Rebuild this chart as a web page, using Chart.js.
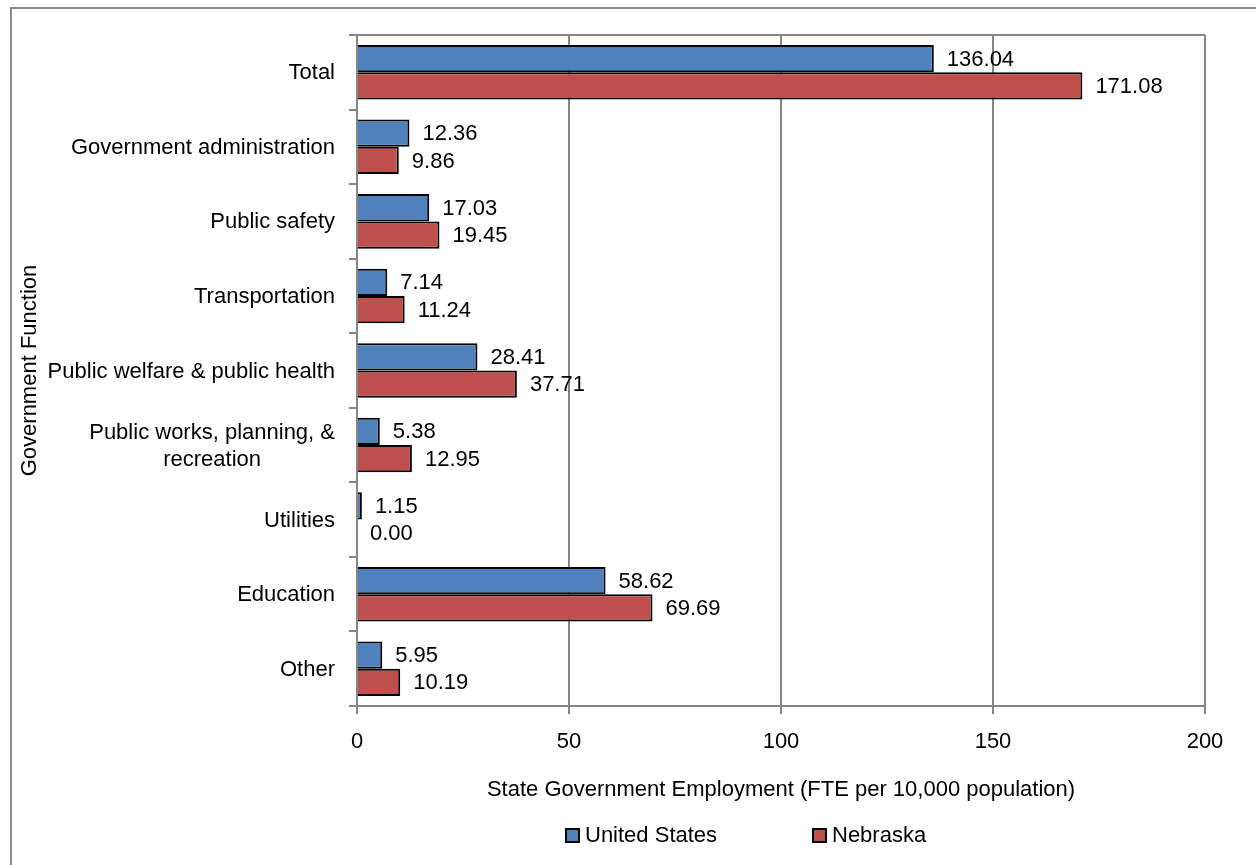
<!DOCTYPE html>
<html>
<head>
<meta charset="utf-8">
<script src="https://cdn.jsdelivr.net/npm/chart.js@4.4.0/dist/chart.umd.min.js"></script>
<style>
  html, body { margin: 0; padding: 0; background: #fff; overflow: hidden; }
  #wrap { position: relative; width: 1256px; height: 865px; }
  #frame { position: absolute; left: 10px; top: 7px; width: 1400px; height: 1000px; border: 2px solid #898989; box-sizing: border-box; }
  #chartBox { position: absolute; left: 0; top: 0; width: 1256px; height: 865px; }
  .legend { position: absolute; top: 822px; font-family: 'Liberation Sans', Arial, sans-serif; font-size: 22px; color: #000; display: flex; align-items: center; }
  .legend span.box { display: inline-block; width: 11px; height: 11px; border: 2px solid #000; margin-right: 5px; }
</style>
</head>
<body>
<div id="wrap">
  <div id="frame"></div>
  <div id="chartBox"><canvas id="govChart" width="1256" height="865"></canvas></div>
  <div class="legend" style="left:565px"><span class="box" style="background:#4F81BD"></span>United States</div>
  <div class="legend" style="left:812px"><span class="box" style="background:#C0504D"></span>Nebraska</div>
</div>
<script>
const categories = [
    'Total',
    'Government administration',
    'Public safety',
    'Transportation',
    'Public welfare & public health',
    ['Public works, planning, &', 'recreation'],
    'Utilities',
    'Education',
    'Other'
];
const usValues = [136.04, 12.36, 17.03, 7.14, 28.41, 5.38, 1.15, 58.62, 5.95];
const nebraskaValues = [171.08, 9.86, 19.45, 11.24, 37.71, 12.95, 0.00, 69.69, 10.19];
const xTicks = [0, 50, 100, 150, 200];

const gridColor = '#868686';
const fontFamily = "'Liberation Sans', Arial, sans-serif";
const fontSize = 22;
Chart.defaults.font.family = fontFamily;
Chart.defaults.font.size = fontSize;
Chart.defaults.color = '#000';

// value labels to the right of each bar
const valueLabels = {
    id: 'valueLabels',
    afterDatasetsDraw(chart) {
        const ctx = chart.ctx;
        ctx.save();
        ctx.font = fontSize + 'px ' + fontFamily;
        ctx.fillStyle = '#000';
        ctx.textAlign = 'left';
        ctx.textBaseline = 'middle';
        chart.data.datasets.forEach((ds, i) => {
            chart.getDatasetMeta(i).data.forEach((bar, j) => {
                ctx.fillText(ds.data[j].toFixed(2), bar.x + 13, bar.y + 1);
            });
        });
        ctx.restore();
    }
};

// category labels, multi-line ones centred on their widest line
const categoryLabels = {
    id: 'categoryLabels',
    afterDraw(chart) {
        const ctx = chart.ctx;
        const yScale = chart.scales.y;
        const right = chart.chartArea.left - 22;
        ctx.save();
        ctx.font = fontSize + 'px ' + fontFamily;
        ctx.fillStyle = '#000';
        ctx.textBaseline = 'middle';
        categories.forEach((label, i) => {
            const y = yScale.getPixelForTick(i) + 1;
            if (Array.isArray(label)) {
                const w = Math.max(...label.map(l => ctx.measureText(l).width));
                const cx = right - w / 2;
                ctx.textAlign = 'center';
                label.forEach((line, k) => {
                    ctx.fillText(line, cx, y + (k - (label.length - 1) / 2) * 27);
                });
            } else {
                ctx.textAlign = 'right';
                ctx.fillText(label, right, y);
            }
        });
        // top edge of the plot area
        const a = chart.chartArea;
        ctx.strokeStyle = gridColor;
        ctx.lineWidth = 2;
        ctx.beginPath();
        ctx.moveTo(a.left, a.top);
        ctx.lineTo(a.right, a.top);
        ctx.stroke();
        ctx.restore();
    }
};

const ctx = document.getElementById('govChart').getContext('2d');
const chart = new Chart(ctx, {
    type: 'bar',
    data: {
        labels: categories,
        datasets: [{
            label: 'United States',
            data: usValues,
            backgroundColor: '#4F81BD',
            borderColor: '#000',
            borderWidth: 2,
            categoryPercentage: 0.732,
            barPercentage: 1
        }, {
            label: 'Nebraska',
            data: nebraskaValues,
            backgroundColor: '#C0504D',
            borderColor: '#000',
            borderWidth: 2,
            categoryPercentage: 0.732,
            barPercentage: 1
        }]
    },
    options: {
        indexAxis: 'y',
        responsive: false,
        animation: false,
        layout: { padding: { left: 13, top: 35, right: 51, bottom: 59 } },
        plugins: {
            legend: { display: false },
            tooltip: { enabled: false }
        },
        scales: {
            x: {
                min: 0,
                max: 200,
                afterBuildTicks(scale) {
                    scale.ticks = xTicks.map(v => ({ value: v }));
                },
                afterFit(scale) { scale.height = 100; },
                grid: { color: gridColor, lineWidth: 2, tickLength: 8 },
                border: { color: gridColor, width: 2 },
                ticks: { padding: 15 },
                title: {
                    display: true,
                    text: 'State Government Employment (FTE per 10,000 population)',
                    padding: { top: 0, bottom: 3 }
                }
            },
            y: {
                afterFit(scale) { scale.width = 344; },
                grid: { drawOnChartArea: false, color: gridColor, lineWidth: 2, tickLength: 8, offset: true },
                border: { color: gridColor, width: 2 },
                ticks: { color: 'rgba(0,0,0,0)' },
                title: {
                    display: true,
                    text: 'Government Function',
                    padding: { top: 4, bottom: 0 }
                }
            }
        }
    },
    plugins: [valueLabels, categoryLabels]
});
</script>
</body>
</html>
